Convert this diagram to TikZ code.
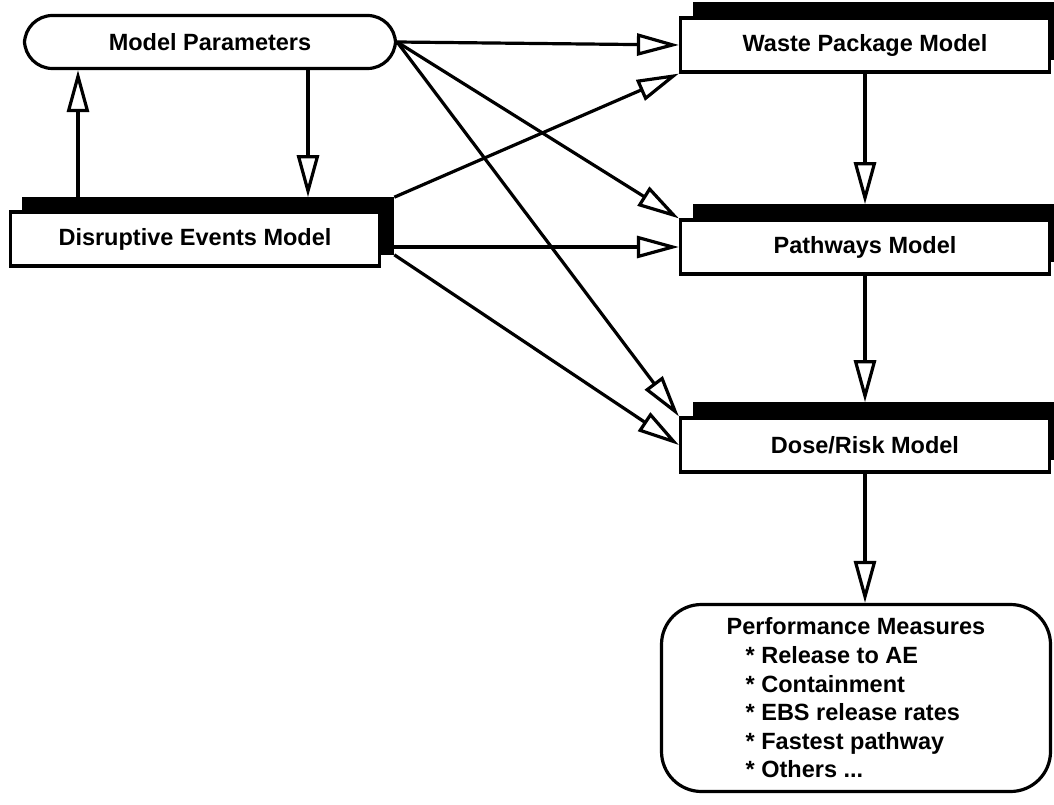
\documentclass[tikz,border=0pt]{standalone}
\usepackage{fontspec}
\setmainfont{Liberation Sans}
\usetikzlibrary{arrows.meta}

\begin{document}
\begin{tikzpicture}[x=1pt,y=-1pt,
  font=\fontsize{23.5}{28.6}\selectfont\bfseries,
  model/.style={draw,line width=3.2pt,fill=white,minimum width=369pt,minimum height=54pt,inner sep=0pt},
  modelshade/.style={fill=black,minimum width=372.2pt,minimum height=57.2pt,inner sep=0pt},
  link/.style={line width=3.2pt,-{Triangle[length=42pt,width=22pt,fill=white,line width=3.2pt]}}]
\useasboundingbox (0,0) rectangle (1054,805);
% inputs
\draw (210,42) node (mp) [draw,line width=3.2pt,rounded corners=28pt,minimum width=371pt,minimum height=53pt] {Model Parameters};
\draw (208,226) node (desh) [modelshade] {};
\draw (195,239) node (de) [model] {Disruptive Events Model};
% models
\draw (879,31) node (wpsh) [modelshade] {};
\draw (865,45) node (wp) [model] {Waste Package Model};
\draw (879,233) node (pathsh) [modelshade] {};
\draw (865,247) node (path) [model] {Pathways Model};
\draw (879,431) node (drsh) [modelshade] {};
\draw (865,445) node (dr) [model] {Dose/Risk Model};
\draw (856,698) node (pm) [draw,line width=3.2pt,rounded corners=40pt,minimum width=389pt,minimum height=187pt,align=left] {Performance Measures\\\hspace*{19pt}* Release to AE\\\hspace*{19pt}* Containment\\\hspace*{19pt}* EBS release rates\\\hspace*{19pt}* Fastest pathway\\\hspace*{19pt}* Others ...};
\coordinate (dn) at (308,0);
\coordinate (up) at (78,0);
% links
\draw [link] (mp.south -| dn) -- (desh.north -| dn);
\draw [link] (desh.north -| up) -- (mp.south -| up);
\draw [link] (mp.east) -- (wp.west);
\draw [link] (mp.east) -- (path.north west);
\draw [link] (mp.east) -- (dr.north west);
\draw [link] (desh.north east) -- (wp.south west);
\draw [link] (desh.east |- path.west) -- (path.west);
\draw [link] (desh.south east) -- (dr.west);
\draw [link] (wp.south) -- (wp.south |- pathsh.north);
\draw [link] (path.south) -- (path.south |- drsh.north);
\draw [link] (dr.south) -- (dr.south |- pm.north);
\end{tikzpicture}
\end{document}
